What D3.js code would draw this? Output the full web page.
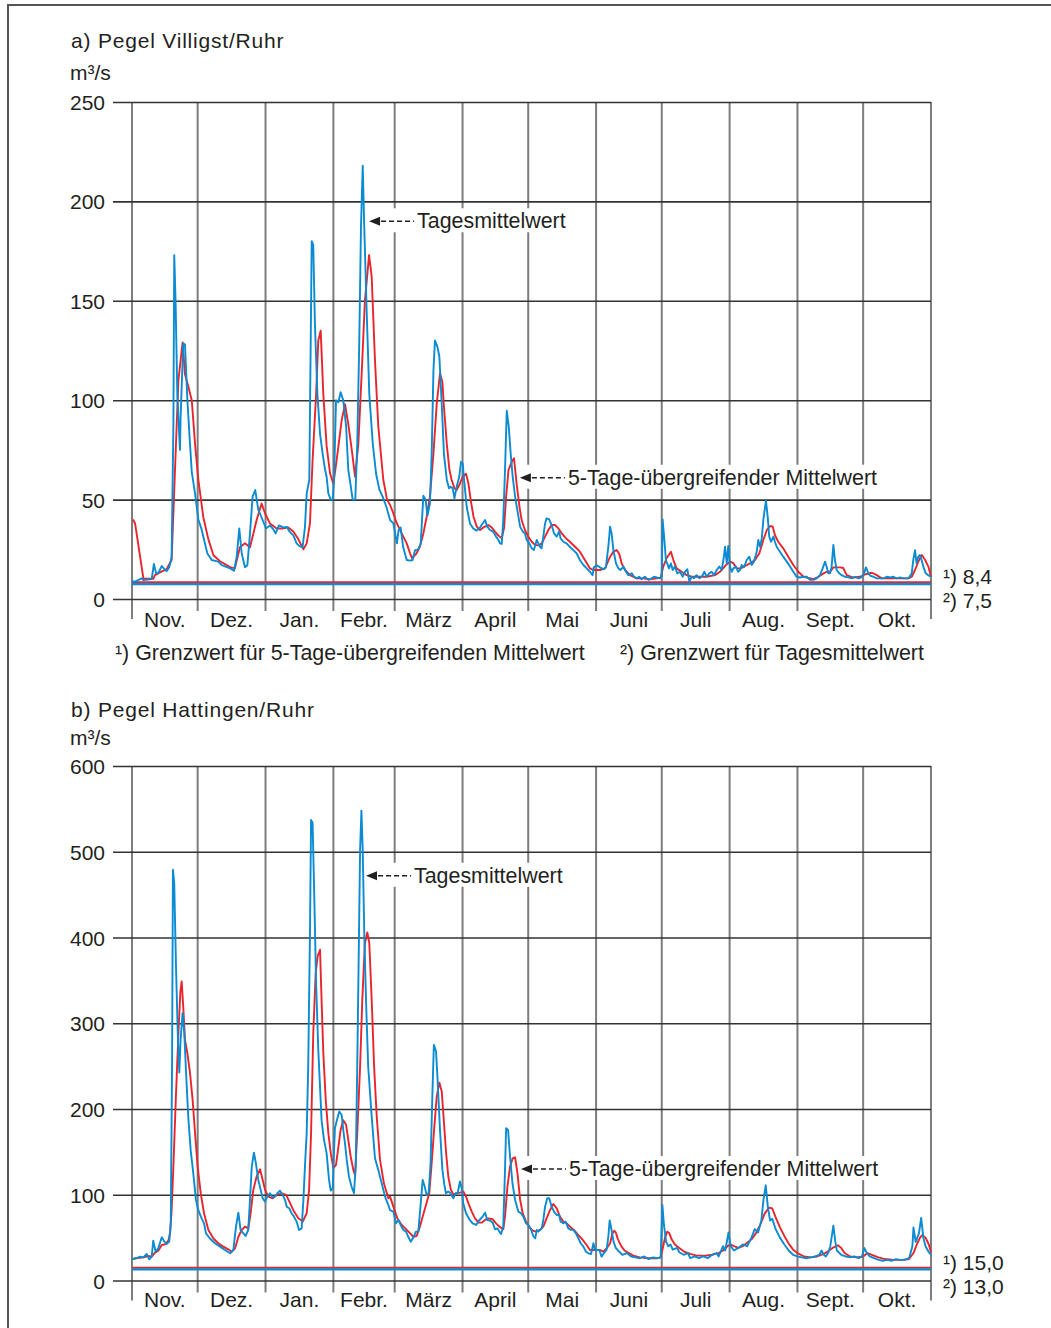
<!DOCTYPE html>
<html><head><meta charset="utf-8">
<script src="https://cdn.jsdelivr.net/npm/d3@7"></script>
<style>
body{margin:0;background:#fff;}
svg{display:block;font-family:"Liberation Sans",Arial,Helvetica,sans-serif;}
</style></head><body>
<svg id="c" width="1051" height="1328"></svg>
<script>
// ---------------- DATA ----------------
// day index within the hydrological year (0 = 1 Nov), value in m³/s
const monthStarts = [0,30,61,92,120,151,181,212,242,273,304,334,365];
const monthLabels = ["Nov.","Dez.","Jan.","Febr.","März","April","Mai","Juni","Juli","Aug.","Sept.","Okt."];

const villigstTicks = [0,50,100,150,200,250];
const hattingenTicks = [0,100,200,300,400,500,600];

const villigstLimits = [8.4, 7.5];      // 1) 5-day average limit, 2) daily mean limit
const villigstLimitLabels = ["8,4","7,5"];
const hattingenLimits = [15.0, 13.0];
const hattingenLimitLabels = ["15,0","13,0"];

const villigstDaily = [
[0,9],[1.4,8.7],[3.7,10],[4.4,10.4],[5.2,9.5],[9,10],[10,17.6],[11,13],[12,13],[13.6,16.6],[14.8,15],[15.8,14],[17,16],[18.1,21],[18.9,87],[19.3,173],[19.9,150],[20.7,103],[21.9,75],[22.2,91],[23.4,128.6],[24.2,128],[25.3,100],[26.5,78],[27.3,64],[28.8,53],[30.3,40],[31.8,35],[33.3,28],[34.4,23],[36.4,19.6],[39.4,18.8],[41,17],[44.8,15.4],[46.6,14.2],[47.8,21],[49,35.5],[50.1,23],[51.6,16],[52.7,17],[53.9,33],[55.1,51.5],[56.3,54.8],[57.7,45],[59.2,41],[61.2,35.5],[63,37],[64.6,35],[65.6,33],[67.1,37],[69.1,36],[70.7,36.3],[71.9,34],[73.7,32],[75.2,28],[76.4,26.7],[77.9,26],[79,36],[79.8,53],[81,60],[82.1,180],[82.8,178],[83.6,137],[84.7,103],[85.9,83],[87.1,73],[88.2,65],[88.9,61.5],[89.7,53],[90.8,50],[91.7,50],[92.3,60],[93.2,100],[94.3,99],[95.3,104],[96.5,100],[97.8,87],[98.8,65],[99.9,57],[100.8,50],[102,50],[102.9,78],[103.8,128],[104.6,187],[105.4,218],[106.1,187],[107.2,145],[108.4,103],[110,78],[111.5,63],[113,55],[114.5,51.5],[116.3,46],[117.9,39.7],[119.4,38],[121,28],[121.8,34.7],[122.7,36],[123.9,26],[125.5,19.6],[127,19.3],[128.2,19.6],[129.3,24.6],[130.8,25],[131.9,28],[133.1,52],[134.1,50],[135,42],[136.1,48],[136.9,73],[137.7,115],[138.4,130],[139.5,127],[140.4,122],[141.5,98],[142.5,73],[143.8,60],[144.8,55.7],[145.6,56.5],[146.5,55.7],[147.3,50.6],[148.3,56.5],[149.5,61.5],[150.3,69],[151.1,68],[151.7,60],[152.9,46.4],[154.4,38],[155.9,35.5],[157.4,34.4],[158.7,35.5],[159.7,37.2],[161.3,39.7],[162.3,36.4],[163.5,34.7],[165,33.9],[166.3,31.4],[167.4,29.7],[168.1,28],[168.9,27.7],[169.6,39.7],[170.4,65],[171.2,94.7],[172.1,86.7],[173,73],[173.9,61.5],[175,51.5],[176,44.8],[177.3,36.4],[178.5,33.9],[179.5,33],[180.3,29.7],[181.5,28],[182.6,25.5],[183.6,24.6],[184.9,29.7],[185.6,28],[186.4,26.3],[187.1,25.5],[187.9,31.4],[188.7,38],[189.4,40.6],[190.6,40],[191.7,37.2],[192.8,33],[194,31.4],[195.1,33.9],[195.8,30.5],[197,28.8],[198.5,28],[200,26.3],[201.6,24.6],[203.1,23],[204.6,19.6],[206.2,17.1],[207.7,15.4],[209.2,13.7],[210.4,12],[211,16],[212.3,17],[213.8,15.9],[215.3,15],[216.5,16],[217.6,26.3],[218.4,36.4],[219.1,33],[219.9,24.6],[221.1,17.9],[222.2,15.4],[223.2,14.6],[224.5,16.3],[225.7,13.7],[226.7,12],[228.3,12.9],[229.3,11.2],[230.5,10.4],[231.7,11.2],[232.8,9.9],[234.3,11.2],[235.9,9.6],[237.4,10.4],[238.5,11.2],[239.7,10.8],[241.2,10.4],[242,11.2],[242.4,40],[243.2,29.7],[243.9,19.6],[245.3,15.4],[246.2,17.9],[247,14.6],[248,16.3],[249.1,12.9],[250.3,13.7],[251.6,11.2],[252.6,13.7],[253.7,15],[254.6,8.7],[255.7,11.2],[256.7,10.4],[257.9,12],[259.2,10.4],[260.3,11.2],[261.5,13.7],[262.5,11.2],[263.7,12.9],[264.8,13.7],[265.9,12],[267.1,14.6],[268.3,16.3],[269.4,14.6],[270.4,21.3],[270.9,26.3],[271.7,18],[272.4,26.7],[273.2,16.3],[274,13.7],[274.7,15.4],[275.9,16.3],[276.9,13.7],[277.7,14.6],[278.5,17.1],[279.6,16],[280.8,19.6],[282,21.3],[283.1,17.1],[284.1,18.8],[285.4,23.8],[286.1,29.7],[286.9,26.3],[287.7,30.5],[288.4,39.7],[288.9,43.9],[289.6,49.5],[290.4,41.4],[291.1,31.4],[291.9,28.8],[293,31.4],[293.7,28.8],[294.5,26.3],[296,23.8],[297.5,21.3],[299.1,18.8],[300.6,16.3],[302.1,13.7],[303.6,11.2],[305.2,10.8],[306.7,11.2],[308.2,11.2],[309.7,9.6],[311.3,9.6],[312.8,10.4],[314.3,12],[315.5,15.4],[316.6,18.8],[317.3,16.3],[318.1,12.9],[318.9,12.9],[319.6,16.3],[320.4,27.2],[321.1,19.6],[321.9,14.6],[323.1,12.9],[324.2,12],[325.7,11.2],[327.2,10.9],[328.8,10.4],[330.3,11.2],[331.8,10.4],[333.3,10.9],[334.4,12.9],[335.3,15.9],[336.4,12.9],[337.4,11.6],[338.7,11.2],[340.2,10.4],[343.3,10.4],[344.8,11.2],[346.3,10.9],[347.8,11.2],[349.3,10.4],[350.9,10.9],[352.4,10.4],[353.9,10.4],[355.1,10.9],[356.2,12.9],[356.9,19.6],[357.7,24.6],[358.4,18],[359.2,21.3],[359.9,22.1],[360.7,19.6],[361.5,16.3],[362.6,12.9],[363.7,12],[365,11.2]
];

const villigstAvg = [
[0.5,40],[1.4,38],[5.2,10.4],[9.7,10.2],[10.5,12],[13,13.5],[15.8,15],[18.1,19.6],[20.4,87],[21.2,110],[23.1,129],[24.2,113],[25.7,107],[27.3,100],[28.8,78],[30.3,60],[32.6,41],[34.9,30],[37.2,22],[40.2,19],[44.8,16],[47,15.4],[49.3,26],[51.6,28],[53.9,26],[57,40],[59.2,48],[60.8,43],[63,38],[66.1,35.5],[69.1,35.5],[71.4,36],[73.7,34],[76,30],[78.3,25],[79.8,28],[81.3,38],[82.5,70],[84.1,103],[85.1,130],[86.2,135],[87.4,103],[88.9,77],[90.5,63],[92,58],[93.5,70],[95.8,90],[97.3,98],[98.8,88],[100.4,75],[101.9,61.5],[103.4,78],[104.9,113],[106.4,150],[108.3,173],[109.5,162],[111,120],[112.5,87],[114.8,60],[116.5,50],[117.9,47.3],[119.4,43],[121,38],[123.2,33],[125.5,28],[127,23],[128,20.5],[130,23],[131.5,26.3],[133.1,33],[134.6,41.4],[136.1,51.5],[137.7,73],[139.2,98],[140.7,113.5],[141.8,109],[142.5,96.7],[143.8,78],[145,65],[146,60],[147.3,55.7],[148.3,54.8],[149.8,58],[151,61.5],[152.6,63],[153.7,58],[154.7,50],[156,41.4],[157.5,36.4],[159,34.7],[160.5,36],[162.8,37.2],[164.3,36],[165.8,33.9],[167.3,32],[168.9,30.5],[170,36],[170.9,51.5],[172,65],[173.5,69],[174.5,70.8],[175.7,58],[177,46.4],[178,39.7],[179.5,34.7],[181,31.4],[182.6,28.8],[184.1,27.2],[185.6,27],[187.2,28],[188.7,31.4],[190.2,34.7],[191.7,37.2],[193.2,37.2],[194.8,35.5],[196.3,33],[198.3,30.5],[200,28.8],[202.4,26.3],[204.6,23.8],[206.9,19.6],[209.2,15.4],[210.7,14.6],[213.8,14.6],[216.1,15.4],[218.4,21.3],[219.9,23.8],[221.4,24.6],[222.6,22.6],[223.7,17.9],[225.2,14.6],[227.5,12],[230.5,10.4],[233.6,10.4],[236.6,9.9],[239.7,10.4],[241.5,10.7],[242.7,16.3],[244.2,20.5],[246.2,23.8],[247.3,19.6],[248.8,15.4],[251.1,13.7],[253.4,12],[255.7,11.2],[259.5,11.2],[262.5,11.2],[266.3,12],[268.6,13.7],[271.3,17.1],[273.2,18.8],[274.7,18],[276.3,15.4],[278.1,15.4],[280.1,16.6],[282.3,17.9],[284.6,19.6],[286.6,23],[288.4,29.7],[290,34.7],[291.5,36.7],[292.7,36.4],[293.7,32.2],[295.2,28.8],[297.5,25.5],[299.8,21.3],[302.1,17.1],[304.4,13.7],[306.7,11.2],[309,10.6],[311.3,10],[313.6,11.2],[315.9,12.9],[317.4,13.7],[318.9,13.7],[320.4,15.9],[323.4,15.9],[324.9,15.6],[326.5,12],[329.5,10.8],[332.6,11.2],[334.1,12],[335.6,12.6],[338,13.2],[340.2,12],[342.5,10.4],[346.3,10.4],[350.9,10.4],[354.7,10.4],[356.2,11.2],[357.7,14.6],[359.2,18.8],[360.8,22.1],[362.3,19.6],[363.8,16.3],[365,11.2]
];

const hattingenDaily = [
[0,25],[1.8,25.9],[3.7,27.8],[5.2,27],[6.7,30.9],[7.9,24.7],[9,27.8],[9.7,46.5],[10.8,33.6],[12,37.5],[13.6,50.4],[14.8,45.3],[15.8,42.6],[17,45.3],[17.7,66.7],[18.3,250],[18.7,479],[19.3,463],[20.1,366],[20.9,288],[21.6,242.5],[22.2,280.6],[23.1,311.8],[23.9,288],[24.7,242],[25.7,191],[26.8,152],[28,125],[29.2,94],[30.3,82],[31.8,72.5],[32.9,66.7],[33.8,55],[35.6,49],[37.9,43.4],[40.2,39.5],[42.5,35.6],[44.8,31.7],[46.3,35.6],[47.5,62.8],[48.6,79],[49.6,58.9],[50.9,55],[51.9,52],[53.1,58.9],[53.9,94],[54.7,132.8],[55.7,149],[56.6,136.7],[57.7,117.3],[58.8,105.6],[59.7,95.9],[60.8,92],[61.8,97.8],[63,101.7],[64.3,97],[65.3,98],[66.4,101.7],[67.6,104.8],[68.8,99.8],[69.9,94],[70.7,86],[71.9,84],[72.9,78.4],[74,74.5],[75.2,68.7],[76.3,58.9],[77.5,60.8],[78.3,94],[79,132.8],[79.8,171.7],[80.5,249.5],[81.3,405],[81.8,537],[82.5,533.5],[83.3,444],[84.1,346.8],[85.1,269],[86.6,187],[87.7,164],[88.9,148.5],[90,117.3],[90.8,104.8],[91.7,107.6],[92.3,152],[92.7,177.6],[93.8,189],[94.7,197],[95.8,193],[96.5,175.6],[97.3,160],[98.1,140.6],[99.1,121],[100.3,109.6],[101.4,101.7],[102.2,132.8],[102.9,249.5],[103.7,405],[104.2,502],[104.8,548],[105.4,502],[106.1,405],[106.9,327],[107.9,249.5],[109.5,191],[111,142.5],[112.5,129],[114.1,113],[115.6,97.8],[117.1,88],[117.9,82],[119.4,80.3],[120.6,66.7],[121.7,70.6],[122.7,64.8],[123.9,59],[125.2,57],[126.2,51],[127.3,45.3],[128.5,50],[129.7,57],[130.8,57],[131.9,90],[132.8,117.3],[133.7,109.5],[134.6,99.8],[135.5,101.7],[136.4,136.7],[137.2,214.5],[137.9,274.8],[138.9,267],[139.6,234],[140.7,175.6],[141.8,129],[142.7,111.5],[143.4,101.7],[144.5,103.7],[145.5,101.7],[146.8,95.9],[147.8,101.7],[148.8,101.7],[149.8,115.4],[150.6,107.6],[151.3,90],[152.6,78.4],[154.1,71.4],[155.6,66.7],[157.2,64.8],[158.7,70.6],[160.2,74.5],[161.3,79.1],[162.3,70.6],[163.6,69.8],[164.8,67.5],[165.8,59.7],[166.9,60.8],[167.8,57],[168.6,54.3],[169.6,62.8],[170.4,129],[170.9,177.6],[171.8,175.6],[172.7,144.6],[173.8,113.4],[175,94],[176.5,80.3],[177.7,78.4],[178.8,74.5],[180,66.7],[181.1,64.8],[182.1,60.9],[183.3,51.9],[184.2,49.2],[184.9,59],[185.6,57],[186.4,59],[187.2,60.9],[187.9,70.6],[188.7,86.1],[189.7,95.9],[190.6,95.9],[191.7,86.1],[192.8,80.3],[194,76.4],[195.1,76.4],[195.8,68.7],[197,66.7],[198.1,68.7],[199.3,60.9],[200.4,59],[201.6,59],[202.8,55],[203.9,49.2],[205,43.4],[206.2,39.5],[207.4,33.6],[208.5,31.7],[209.7,30.9],[210.8,43.4],[211.5,35.6],[212.3,35.6],[213.5,35.6],[214.5,27.8],[215.3,31],[216,33],[216.8,35.6],[217.6,51.2],[218.2,70],[219,60],[220,45],[221,38],[222,35],[224,30],[226,32],[228,28],[230,27],[232,26],[234,28],[236,25],[238,27],[240,26],[241.5,27],[242.3,88],[243,65],[244,45],[245,40],[246,42],[247,36],[249,38],[250,33],[252,30],[254,32],[255,26],[257,28],[259,26],[261,28],[263,26],[265,30],[267,32],[268,28],[270,40],[271,35],[272.5,56],[273.5,40],[275,35],[277,38],[279,42],[281,40],[283,50],[284.5,60],[286,56],[287.5,70],[288.5,95],[289.5,111],[290.5,85],[291.5,70],[292.5,72],[294,60],[296,50],[298,42],[300,35],[302,30],[304,28],[306,27],[308,26],[310,27],[312,28],[314,30],[315,35],[316,30],[317,28],[318,32],[319,40],[320.4,64],[321.3,45],[322,35],[324,30],[326,28],[328,27],[330,28],[332,26],[333.5,28],[334.5,38],[335.5,33],[337,28],[339,26],[341,24],[343,23],[345,24],[347,23],[349,25],[351,24],[353,24],[355,26],[356.5,40],[357,62],[358,45],[359.5,55],[360.5,73],[361.5,50],[362.5,40],[364,33],[365,30]
];

const hattingenAvg = [
[0,25],[1.8,25.9],[5.2,27],[7.5,28.6],[9,27.8],[10.5,32.5],[12,34.8],[13.6,41.4],[15.1,42.2],[16.6,46.5],[17.4,55],[18.1,82],[18.9,132.8],[20,210.6],[21.2,288],[22.1,337],[22.7,348.7],[23.4,319.5],[24.2,280.6],[25.3,265],[26.5,242],[27.7,210.6],[28.8,171.7],[30,132.8],[31.4,101.7],[32.9,78.4],[34.9,58.9],[37.2,49],[39.4,43.4],[41.7,39.5],[44,36.4],[45.5,33.6],[47.1,37.5],[48.6,51],[50.1,58.9],[51.6,62.8],[53.1,60.8],[54.2,78.4],[55.4,105.6],[56.9,121],[58.5,129.7],[59.7,117.3],[60.8,105.6],[62.3,97.8],[64.3,95.9],[66.1,99.8],[68.4,101.7],[70.4,99.8],[71.9,92],[73.7,82],[76,72.5],[78,68.7],[79.8,78.4],[80.9,105.6],[81.8,171.7],[82.8,288],[83.9,358.4],[84.8,378],[85.9,385.7],[86.6,327],[87.4,265],[88.5,210.6],[89.7,171.7],[90.8,148.5],[92,131],[93.2,134.8],[94.3,156],[95.3,175.6],[96.5,187],[97.8,181.5],[98.8,164],[99.9,144.6],[101.1,129],[101.9,123],[102.9,171.7],[104.2,249.5],[105.2,327],[106.4,393.5],[107.5,405.8],[108.4,393.5],[109.5,327],[110.6,249.5],[111.8,191],[113.3,140.6],[115.1,113],[117.1,95.9],[117.9,97.8],[119.4,86.1],[121.2,72.5],[123.2,64.8],[125.5,59],[127.3,54.3],[128.5,51],[130,51.9],[131.3,60.9],[132.8,74.5],[134.3,88],[135.8,101.7],[136.9,136.7],[138,175.6],[139.2,214.5],[140.4,230.8],[141.5,220.3],[142.2,195],[143.5,148.4],[144.5,121],[145.7,105.6],[146.8,100.5],[148.3,101.7],[149.8,102.5],[151.4,103.7],[152.6,97.8],[153.7,90],[155.2,80.3],[156.7,72.5],[158.3,67.5],[159.8,67.5],[161.3,70.6],[162.8,72.5],[164.8,71.4],[166.3,66.7],[167.8,62.8],[169.6,59.7],[170.4,74.5],[171.5,109.5],[172.7,132.8],[173.9,142.5],[175,143.7],[176.1,125],[177.3,94],[178.5,78.4],[180,68.7],[181.5,62],[183.1,58.1],[184.6,57],[186.4,59],[187.9,62.8],[189.4,72.5],[191,82.3],[192.5,89.2],[194,84.2],[195.5,74.5],[197,68.7],[198.6,66.7],[200.1,62.8],[201.9,59],[203.9,53],[205.9,47.3],[207.7,41.4],[209.2,35.6],[211.5,35.6],[213.8,35.6],[215.3,33.6],[216.8,37.5],[218.4,43.4],[219.5,55],[220.3,58],[221,56],[222,48],[223.5,40],[225,35],[227,32],[229,29],[232,27],[236,26],[240,26],[241.5,27],[242.5,38],[243.5,50],[244.5,57],[245.5,55],[246.5,48],[248,42],[250,38],[252,34],[255,31],[258,29],[262,29],[265,30],[268,32],[270,35],[272,40],[273.5,42],[275,40],[277,38],[279,40],[281,44],[283,48],[285,55],[287,65],[289,78],[291,85],[292.5,84],[294,74],[296,62],[298,52],[300,43],[302,36],[304,32],[307,28],[310,27],[313,28],[316,31],[318,34],[320,38],[322.5,41],[324,38],[325.5,32],[328,28],[331,27],[334,28],[336,32],[338,30],[341,27],[344,25],[348,24],[352,24],[355,25],[357,32],[358.5,42],[360,50],[361,53],[362.5,50],[364,42],[365,33]
];

// ---------------- DRAWING ----------------
const BLUE = "#0a8bd2", RED = "#e8252d", INK = "#231f20";
const svg = d3.select("#c");
const FONT = 21;
const FONT_ANN = 21.4;

// outer frame (left + top border)
svg.append("path").attr("d","M8,1328V5H1051").attr("fill","none").attr("stroke","#555").attr("stroke-width",2);

const x = d3.scaleLinear().domain([0,365]).range([132,931]);

const panels = [
  {title:"a) Pegel Villigst/Ruhr", top:102, bottom:599, max:250, ticks:villigstTicks,
   daily:villigstDaily, avg:villigstAvg, limits:villigstLimits, limitLabels:villigstLimitLabels,
   titleY:48, unitY:80, monthY:627, ann1:[108.3,190], ann2:[177.2,61], footnotes:true},
  {title:"b) Pegel Hattingen/Ruhr", top:766, bottom:1280.5, max:600, ticks:hattingenTicks,
   daily:hattingenDaily, avg:hattingenAvg, limits:hattingenLimits, limitLabels:hattingenLimitLabels,
   titleY:717, unitY:745, monthY:1307, ann1:[106.9,472], ann2:[177.7,130], footnotes:false}
];

panels.forEach(p => {
  const y = d3.scaleLinear().domain([0,p.max]).range([p.bottom,p.top]);
  const g = svg.append("g");

  // titles
  g.append("text").attr("x",71).attr("y",p.titleY).attr("font-size",FONT).attr("fill",INK)
    .attr("letter-spacing",0.8).text(p.title);
  g.append("text").attr("x",70).attr("y",p.unitY).attr("font-size",FONT).attr("fill",INK).text("m³/s");

  // month vertical lines
  g.selectAll("line.m").data(monthStarts).enter().append("line")
    .attr("x1",d=>x(d)).attr("x2",d=>x(d))
    .attr("y1",p.top)
    .attr("y2",(d,i)=> (i===0||i===monthStarts.length-1) ? p.bottom+20 : p.bottom+12)
    .attr("stroke","#7d7d7d").attr("stroke-width",2);

  // horizontal grid via axis
  const ax = d3.axisLeft(y).tickValues(p.ticks).tickSize(-(931-113)).tickPadding(8);
  const axg = g.append("g").attr("transform","translate(113,0)").call(ax);
  axg.select(".domain").remove();
  axg.selectAll(".tick line").attr("stroke","#333").attr("stroke-width",1.6);
  axg.selectAll(".tick text").attr("font-size",FONT).attr("fill",INK)
     .attr("font-family","'Liberation Sans',Arial,sans-serif").attr("dy","0.36em");

  // month labels
  g.selectAll("text.ml").data(monthLabels).enter().append("text")
    .attr("x",(d,i)=> (x(monthStarts[i])+x(monthStarts[i+1]))/2)
    .attr("y",p.monthY).attr("text-anchor","middle").attr("font-size",FONT).attr("fill",INK)
    .text(d=>d);

  // limit lines
  g.append("line").attr("x1",x(0)).attr("x2",x(365)).attr("y1",y(p.limits[0])).attr("y2",y(p.limits[0]))
    .attr("stroke",RED).attr("stroke-width",2);
  g.append("line").attr("x1",x(0)).attr("x2",x(365)).attr("y1",y(p.limits[1])).attr("y2",y(p.limits[1]))
    .attr("stroke",BLUE).attr("stroke-width",2.2);

  // limit labels
  const ly = y(p.limits[0]) + 2;
  g.append("text").attr("x",943).attr("y",ly).attr("font-size",FONT).attr("fill",INK).text("¹) " + p.limitLabels[0]);
  g.append("text").attr("x",943).attr("y",ly+24).attr("font-size",FONT).attr("fill",INK).text("²) " + p.limitLabels[1]);

  // data lines
  const line = d3.line().x(d=>x(d[0])).y(d=>y(d[1]));
  g.append("path").datum(p.avg).attr("d",line).attr("fill","none").attr("stroke",RED)
    .attr("stroke-width",1.9).attr("stroke-linejoin","round");
  g.append("path").datum(p.daily).attr("d",line).attr("fill","none").attr("stroke",BLUE)
    .attr("stroke-width",1.9).attr("stroke-linejoin","round");

  // annotations
  function annotate(pt, label){
    const tx = x(pt[0]), ty = y(pt[1]);
    const t = g.append("text").attr("x",tx+48).attr("y",ty+7).attr("font-size",FONT_ANN).attr("fill",INK).text(label);
    const w = t.node().getComputedTextLength();
    g.insert("rect", () => t.node()).attr("x",tx-1).attr("y",ty-13).attr("width",w+52).attr("height",24).attr("fill","#fff");
    g.append("path").attr("d",`M${tx},${ty}l11,-4.5v9z`).attr("fill",INK);
    g.append("line").attr("x1",tx+12).attr("x2",tx+45).attr("y1",ty).attr("y2",ty)
      .attr("stroke",INK).attr("stroke-width",1.6).attr("stroke-dasharray","5,3");
  }
  annotate(p.ann1, "Tagesmittelwert");
  annotate(p.ann2, "5-Tage-übergreifender Mittelwert");

  if (p.footnotes){
    g.append("text").attr("x",115).attr("y",660).attr("font-size",FONT_ANN).attr("fill",INK)
      .text("¹) Grenzwert für 5-Tage-übergreifenden Mittelwert");
    g.append("text").attr("x",620).attr("y",660).attr("font-size",FONT_ANN).attr("fill",INK)
      .text("²) Grenzwert für Tagesmittelwert");
  }
});
</script>
</body></html>
